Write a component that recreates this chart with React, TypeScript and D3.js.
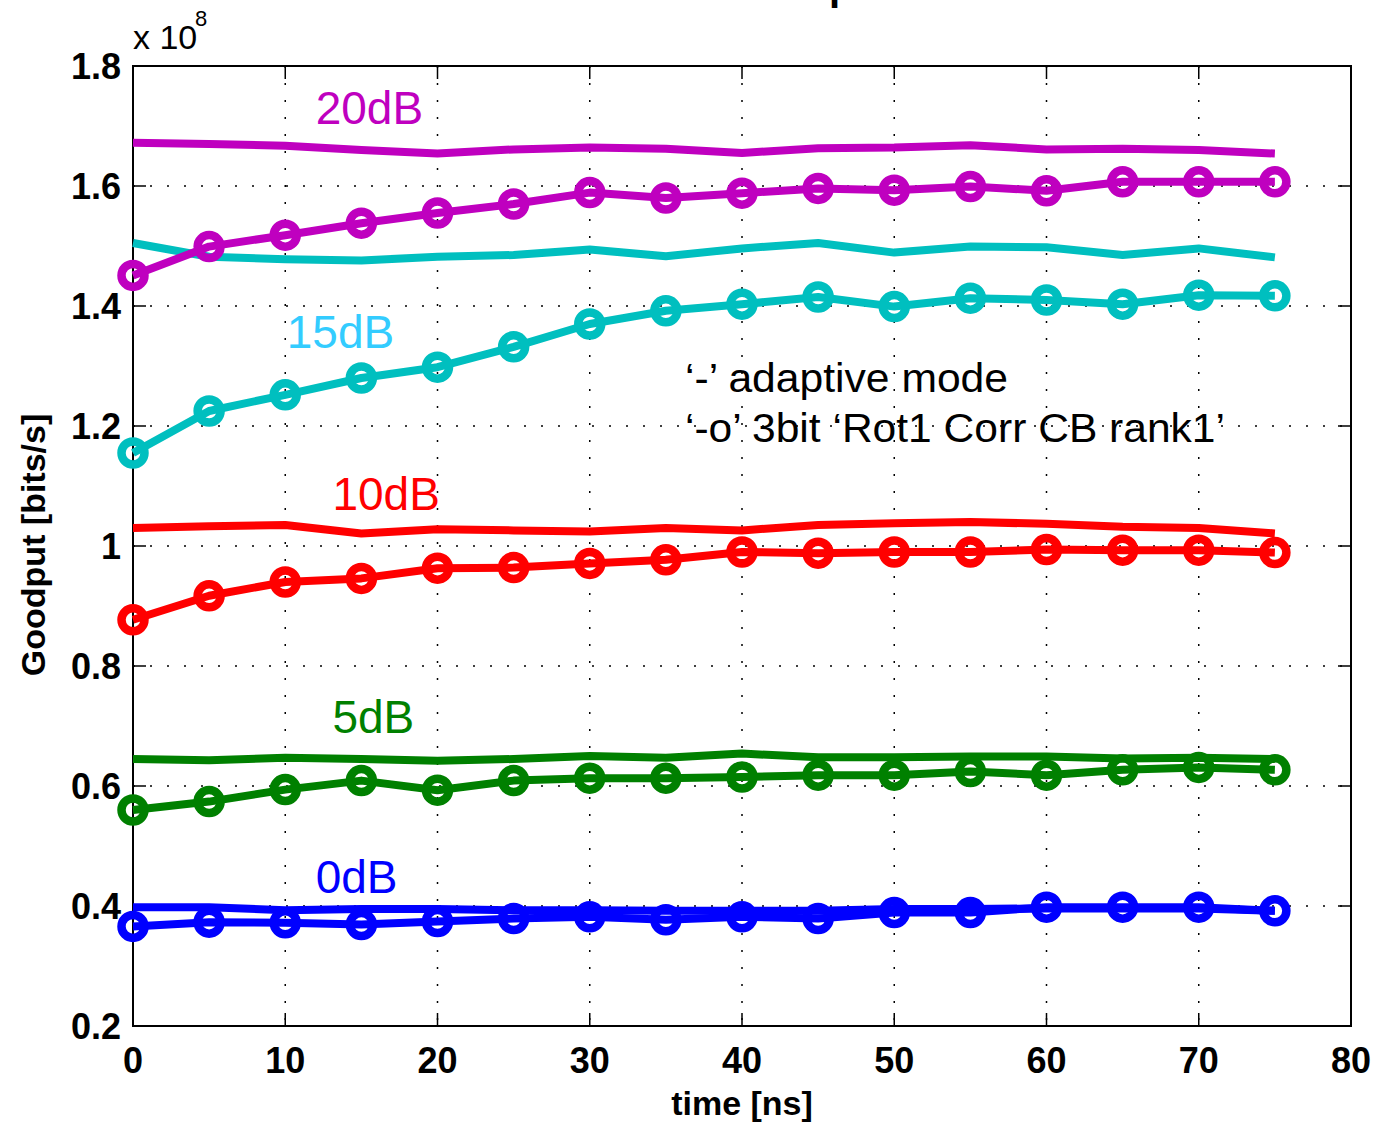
import React from "react";
import * as d3 from "d3";

const time = [0, 5, 10, 15, 20, 25, 30, 35, 40, 45, 50, 55, 60, 65, 70, 75];

const adaptive20 = [1.672, 1.670, 1.667, 1.660, 1.654, 1.661, 1.664, 1.662, 1.655, 1.663, 1.664, 1.668, 1.661, 1.662, 1.660, 1.654];
const rot20 = [1.451, 1.499, 1.518, 1.538, 1.555, 1.570, 1.589, 1.580, 1.588, 1.596, 1.593, 1.599, 1.592, 1.607, 1.607, 1.607];
const adaptive15 = [1.505, 1.482, 1.478, 1.476, 1.482, 1.485, 1.494, 1.483, 1.496, 1.505, 1.489, 1.499, 1.498, 1.485, 1.496, 1.481];
const rot15 = [1.155, 1.225, 1.252, 1.280, 1.298, 1.332, 1.370, 1.392, 1.403, 1.415, 1.399, 1.413, 1.410, 1.403, 1.418, 1.417];
const adaptive10 = [1.030, 1.033, 1.035, 1.021, 1.028, 1.026, 1.024, 1.030, 1.026, 1.035, 1.038, 1.040, 1.037, 1.032, 1.030, 1.021];
const rot10 = [0.877, 0.917, 0.940, 0.946, 0.963, 0.964, 0.971, 0.977, 0.990, 0.988, 0.990, 0.990, 0.994, 0.993, 0.993, 0.989];
const adaptive5 = [0.645, 0.643, 0.647, 0.645, 0.642, 0.645, 0.650, 0.647, 0.654, 0.648, 0.648, 0.649, 0.649, 0.646, 0.647, 0.645];
const rot5 = [0.560, 0.574, 0.594, 0.609, 0.593, 0.609, 0.613, 0.613, 0.615, 0.618, 0.618, 0.624, 0.618, 0.627, 0.631, 0.627];
const adaptive0 = [0.398, 0.398, 0.393, 0.395, 0.395, 0.393, 0.393, 0.392, 0.392, 0.392, 0.395, 0.395, 0.396, 0.396, 0.396, 0.392];
const rot0 = [0.366, 0.373, 0.372, 0.369, 0.374, 0.379, 0.382, 0.377, 0.382, 0.379, 0.389, 0.389, 0.398, 0.398, 0.398, 0.392];

const xTicks = [0, 10, 20, 30, 40, 50, 60, 70, 80];
const yTicks = [0.2, 0.4, 0.6, 0.8, 1.0, 1.2, 1.4, 1.6, 1.8];
const snrLabels = ["20dB", "15dB", "10dB", "5dB", "0dB"];
const noteLines = ["\u2018-\u2019 adaptive mode", "\u2018-o\u2019 3bit \u2018Rot1 Corr CB rank1\u2019"];

const series = [
  { adaptive: adaptive20, rot: rot20, color: "#bf00bf", label: snrLabels[0], labelColor: "#bf00bf", lx: 12.0, ly: 1.703 },
  { adaptive: adaptive15, rot: rot15, color: "#00bfbf", label: snrLabels[1], labelColor: "#33ccff", lx: 10.1, ly: 1.330 },
  { adaptive: adaptive10, rot: rot10, color: "#ff0000", label: snrLabels[2], labelColor: "#ff0000", lx: 13.1, ly: 1.060 },
  { adaptive: adaptive5, rot: rot5, color: "#008000", label: snrLabels[3], labelColor: "#008000", lx: 13.1, ly: 0.688 },
  { adaptive: adaptive0, rot: rot0, color: "#0000ff", label: snrLabels[4], labelColor: "#0000ff", lx: 12.0, ly: 0.422 },
];

const noteWidths = [323, 540];

const FONT = "'Liberation Sans', Arial, Helvetica, sans-serif";

export default function App() {
  const left = 133, right = 1351, top = 66, bottom = 1026;
  const x = d3.scaleLinear().domain([0, 80]).range([left, right]);
  const y = d3.scaleLinear().domain([0.2, 1.8]).range([bottom, top]);
  const line = (vals: number[]) =>
    d3.line<number>().x((_, i) => x(time[i])).y((v) => y(v))(vals) || "";
  const tickLen = 13;

  return (
    <svg width={1375} height={1125} style={{ position: "absolute", left: 0, top: 0, background: "#fff" }} fontFamily={FONT}>
      <rect x={0} y={0} width={1375} height={1125} fill="#fff" />
      {/* clipped title fragment */}
      <text x={829} y={0} fontSize={40} fontWeight="bold" fill="#000">p</text>

      {/* grid */}
      {xTicks.slice(1, -1).map((t) => (
        <line key={"gx" + t} x1={x(t)} x2={x(t)} y1={top} y2={bottom} stroke="#000" strokeWidth={1.5} strokeDasharray="2,15" />
      ))}
      {yTicks.slice(1, -1).map((t) => (
        <line key={"gy" + t} x1={left} x2={right} y1={y(t)} y2={y(t)} stroke="#000" strokeWidth={1.5} strokeDasharray="2,15" />
      ))}

      {/* ticks */}
      {xTicks.map((t) => (
        <g key={"tx" + t}>
          <line x1={x(t)} x2={x(t)} y1={bottom} y2={bottom - tickLen} stroke="#000" strokeWidth={1.5} />
          <line x1={x(t)} x2={x(t)} y1={top} y2={top + tickLen} stroke="#000" strokeWidth={1.5} />
          <text x={x(t)} y={1073} textAnchor="middle" fontSize={36} fontWeight="bold" fill="#000">{t}</text>
        </g>
      ))}
      {yTicks.map((t) => (
        <g key={"ty" + t}>
          <line x1={left} x2={left + tickLen} y1={y(t)} y2={y(t)} stroke="#000" strokeWidth={1.5} />
          <line x1={right} x2={right - tickLen} y1={y(t)} y2={y(t)} stroke="#000" strokeWidth={1.5} />
          <text x={121} y={y(t) + 13} textAnchor="end" fontSize={36} fontWeight="bold" fill="#000">{d3.format("~g")(t)}</text>
        </g>
      ))}

      {/* axes box */}
      <rect x={left} y={top} width={right - left} height={bottom - top} fill="none" stroke="#000" strokeWidth={2} />

      {/* exponent */}
      <text x={133} y={49} fontSize={34} fill="#000">x 10</text>
      <text x={195} y={26} fontSize={22} fill="#000">8</text>

      {/* axis labels */}
      <text x={742} y={1115} textAnchor="middle" fontSize={34} fontWeight="bold" fill="#000">time [ns]</text>
      <text transform={`translate(45,545) rotate(-90)`} textAnchor="middle" fontSize={34} fontWeight="bold" fill="#000">Goodput [bits/s]</text>

      {/* adaptive lines */}
      {series.map((s) => (
        <path key={"a" + s.label} d={line(s.adaptive)} fill="none" stroke={s.color} strokeWidth={8} strokeLinejoin="round" />
      ))}
      {/* rot lines with markers */}
      {series.map((s) => (
        <g key={"r" + s.label}>
          <path d={line(s.rot)} fill="none" stroke={s.color} strokeWidth={8} strokeLinejoin="round" />
          {s.rot.map((v, i) => (
            <circle key={i} cx={x(time[i])} cy={y(v)} r={11.5} fill="none" stroke={s.color} strokeWidth={8.5} />
          ))}
        </g>
      ))}

      {/* SNR labels */}
      {series.map((s) => (
        <text key={"l" + s.label} x={x(s.lx)} y={y(s.ly)} fontSize={46} fill={s.labelColor}>{s.label}</text>
      ))}

      {/* note */}
      {noteLines.map((t, i) => (
        <text key={"n" + i} x={685} y={392 + i * 50} fontSize={41.5} fill="#000" textLength={noteWidths[i]} lengthAdjust="spacingAndGlyphs">{t}</text>
      ))}
    </svg>
  );
}
